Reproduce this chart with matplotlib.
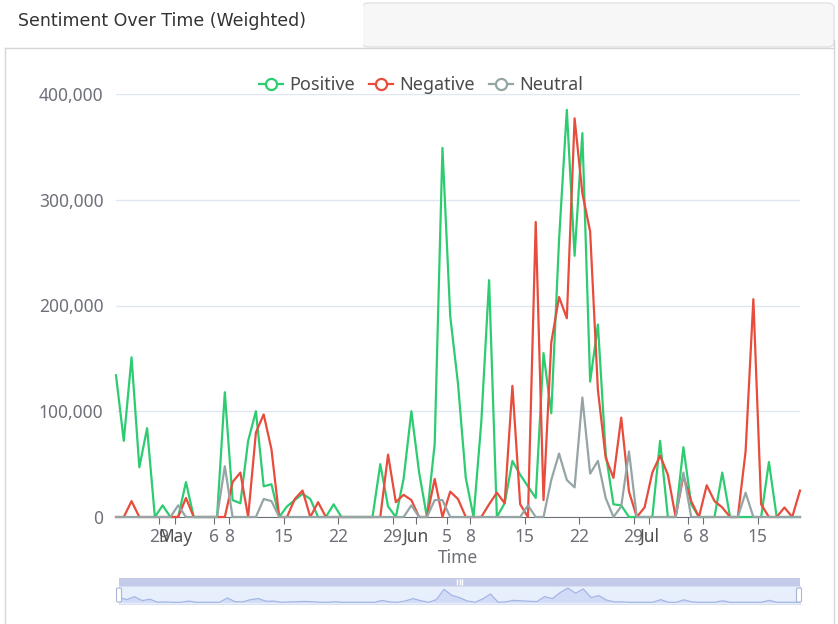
import numpy as np
import pandas as pd
import matplotlib
matplotlib.use("Agg")
import matplotlib.pyplot as plt
from matplotlib.lines import Line2D
from matplotlib.patches import Rectangle, FancyBboxPatch
from matplotlib.ticker import FuncFormatter

plt.rcParams['font.family'] = ['Noto Sans', 'DejaVu Sans']

# daily values, 23 Apr - 20 Jul
dates = pd.date_range('2024-04-23 10:00', periods=89, freq='D')

positive = [134000, 72000, 151000, 47000, 84000, 0, 11000, 0, 0, 33000,
            0, 0, 0, 0, 118000, 16000, 13000, 72000, 100000, 29000,
            31000, 0, 10000, 16000, 22000, 17000, 0, 0, 12000, 0,
            0, 0, 0, 0, 50000, 10000, 0, 36000, 100000, 42000,
            0, 69000, 349000, 190000, 126000, 37000, 0, 90000, 224000, 0,
            13000, 53000, 40000, 29000, 18000, 155000, 98000, 262000, 385000, 247000,
            363000, 128000, 182000, 60000, 12000, 11000, 0, 0, 0, 0,
            72000, 0, 0, 66000, 12000, 0, 0, 0, 42000, 0,
            0, 0, 0, 0, 52000, 0, 0, 0, 0]

negative = [0, 0, 15000, 0, 0, 0, 0, 0, 0, 18000,
            0, 0, 0, 0, 0, 33000, 42000, 0, 80000, 97000,
            64000, 0, 0, 17000, 25000, 0, 14000, 0, 0, 0,
            0, 0, 0, 0, 0, 59000, 14000, 21000, 16000, 0,
            0, 36000, 0, 24000, 17000, 0, 0, 0, 12000, 23000,
            13000, 124000, 12000, 0, 279000, 16000, 165000, 208000, 188000, 377000,
            306000, 270000, 120000, 56000, 37000, 94000, 24000, 0, 9000, 42000,
            58000, 40000, 0, 39000, 15000, 0, 30000, 15000, 9000, 0,
            0, 62000, 206000, 12000, 0, 0, 9000, 0, 25000]

neutral = [0, 0, 0, 0, 0, 0, 0, 0, 11000, 0,
           0, 0, 0, 0, 48000, 0, 0, 0, 0, 17000,
           15000, 0, 0, 0, 0, 0, 0, 0, 0, 0,
           0, 0, 0, 0, 0, 0, 0, 0, 11000, 0,
           0, 16000, 16000, 0, 0, 0, 0, 0, 0, 0,
           0, 0, 0, 11000, 0, 0, 35000, 60000, 35000, 28000,
           113000, 41000, 53000, 18000, 0, 10000, 62000, 0, 0, 0,
           0, 0, 0, 42000, 0, 0, 0, 0, 0, 0,
           0, 23000, 0, 0, 0, 0, 0, 0, 0]

series_names = ['Positive', 'Negative', 'Neutral']
series_colors = ['#2ecc71', '#e74c3c', '#95a5a6']

tick_dates = pd.to_datetime(['2024-04-29', '2024-05-01', '2024-05-06', '2024-05-08',
                             '2024-05-15', '2024-05-22', '2024-05-29', '2024-06-01',
                             '2024-06-05', '2024-06-08', '2024-06-15', '2024-06-22',
                             '2024-06-29', '2024-07-01', '2024-07-06', '2024-07-08',
                             '2024-07-15'])
tick_labels = ['29', 'May', '6', '8', '15', '22', '29', 'Jun', '5', '8',
               '15', '22', '29', 'Jul', '6', '8', '15']
month_labels = ['May', 'Jun', 'Jul']

W, H = 838, 624
fig = plt.figure(figsize=(W / 100, H / 100), dpi=100)


def fx(px):
    return px / W


def fy(py):
    return 1 - py / H


# card / tab header
fig.patches.append(FancyBboxPatch((fx(362), fy(47)), fx(834) - fx(362), fy(3) - fy(47),
                                  boxstyle='round,pad=0,rounding_size=0.008',
                                  transform=fig.transFigure, facecolor='#f7f7f7',
                                  edgecolor='#e2e2e2', lw=1))
# white tab hides the left edge of the grey strip
fig.patches.append(Rectangle((0, fy(46.5)), fx(362.5), fy(0) - fy(46.5), transform=fig.transFigure,
                             facecolor='white', edgecolor='none'))
fig.lines.append(Line2D([fx(5), fx(834)], [fy(47.5), fy(47.5)], transform=fig.transFigure,
                        color='#d6d6d6', lw=1))
fig.lines.append(Line2D([fx(5), fx(5)], [fy(47.5), 0], transform=fig.transFigure,
                        color='#d6d6d6', lw=1))
fig.lines.append(Line2D([fx(834), fx(834)], [fy(40), 0], transform=fig.transFigure,
                        color='#d6d6d6', lw=1))
fig.text(fx(18), fy(21.5), 'Sentiment Over Time (Weighted)', fontsize=12.5,
         family='DejaVu Sans', color='#333333', va='center', ha='left')

# main chart
ax = fig.add_axes([fx(116), fy(517), fx(800) - fx(116), fy(94) - fy(517)])
for vals, name, col in zip([positive, negative, neutral], series_names, series_colors):
    ax.plot(dates, vals, color=col, lw=1.6, label=name, clip_on=False, solid_joinstyle='round')

ax.set_xlim(dates[0], dates[-1])
ax.set_ylim(0, 400000)
ax.set_yticks([0, 100000, 200000, 300000, 400000])
ax.yaxis.set_major_formatter(FuncFormatter(lambda v, p: f'{int(v):,}'))
ax.grid(axis='y', color='#e0e6f1', lw=1)
ax.set_axisbelow(True)
for s in ['top', 'right', 'left']:
    ax.spines[s].set_visible(False)
ax.spines['bottom'].set_color('#6e7079')
ax.spines['bottom'].set_zorder(0.5)
ax.tick_params(axis='y', length=0, pad=9, labelsize=12.5, labelcolor='#6e7079')
ax.tick_params(axis='x', length=5, color='#6e7079', pad=3, labelsize=12.5,
               labelcolor='#6e7079')
ax.set_xticks(tick_dates)
ax.set_xticklabels(tick_labels)
for lab in ax.get_xticklabels():
    if lab.get_text() in month_labels:
        lab.set_fontweight('bold')
        lab.set_color('#505050')
ax.set_xlabel('Time', fontsize=12.5, color='#6e7079', labelpad=2)

handles = [Line2D([], [], color=c, lw=1.6, marker='o', markersize=8,
                  markerfacecolor='white', markeredgewidth=1.6) for c in series_colors]
fig.legend(handles, series_names, loc='center', bbox_to_anchor=(fx(421), fy(85)),
           ncol=3, frameon=False, fontsize=13, handlelength=1.3, handletextpad=0.35,
           columnspacing=0.8, labelcolor='#4a4a4a')

# data zoom slider
bar = fig.add_axes([fx(119), fy(586), fx(800) - fx(119), fy(578) - fy(586)])
bar.set_facecolor('#c4cbe9')
bar.set_xticks([])
bar.set_yticks([])
for s in bar.spines.values():
    s.set_visible(False)
bar.plot([0.5 - 0.003, 0.5, 0.5 + 0.003], [0.5, 0.5, 0.5], ls='none', marker='|',
         color='white', markersize=4, mew=1)
bar.set_xlim(0, 1)
bar.set_ylim(0, 1)

mini = fig.add_axes([fx(119), fy(604), fx(800) - fx(119), fy(586) - fy(604)])
mini.set_facecolor('#e7eefc')
mini.fill_between(dates, positive, color='#d2dcf6', lw=0)
mini.plot(dates, positive, color='#a3b5e6', lw=0.9)
mini.set_xlim(dates[0], dates[-1])
mini.set_ylim(-0.12 * max(positive), 1.15 * max(positive))
mini.set_xticks([])
mini.set_yticks([])
for s in mini.spines.values():
    s.set_color('#d5dcef')
    s.set_linewidth(0.6)

for hx in [119, 799]:
    fig.patches.append(FancyBboxPatch((fx(hx - 2.5), fy(602)), fx(5), fy(588) - fy(602),
                                      boxstyle='round,pad=0,rounding_size=0.002',
                                      transform=fig.transFigure, facecolor='white',
                                      edgecolor='#aab6d6', lw=0.8, zorder=5))

fig.savefig('out.png', dpi=100)
